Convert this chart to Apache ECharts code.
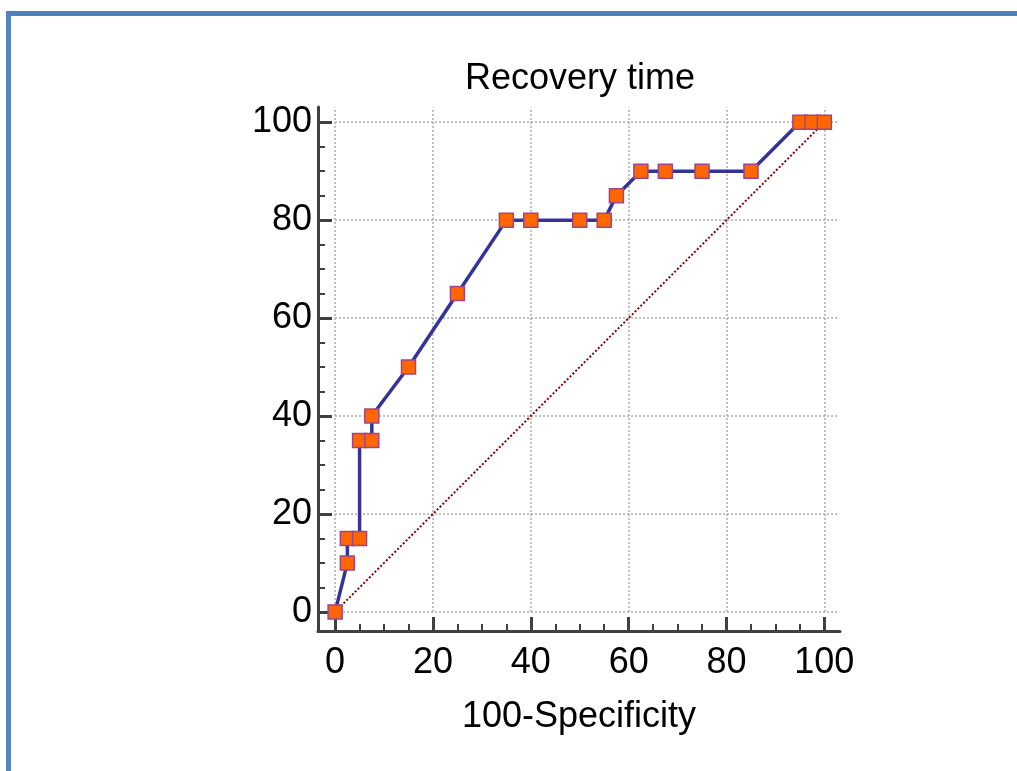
<!DOCTYPE html>
<html>
<head>
<meta charset="utf-8">
<script src="https://cdn.jsdelivr.net/npm/echarts@6/dist/echarts.min.js"></script>
<style>
html,body{margin:0;padding:0;background:#fff;}
#frame{position:absolute;left:6px;top:11px;width:1011px;height:760px;border-top:5px solid #4f81bd;border-left:5px solid #5585c0;box-sizing:border-box;}
#chart{position:absolute;left:0;top:0;width:1017px;height:771px;}
</style>
</head>
<body>
<div id="frame"></div>
<div id="chart"></div>
<script>
// ROC curve points: 100-Specificity (x) and Sensitivity (y)
const specX = [0, 2.5, 2.5, 5, 5, 7.5, 7.5, 15, 25, 35, 40, 50, 55, 57.5, 62.5, 67.5, 75, 85, 95, 97.5, 100];
const sensY = [0, 10, 15, 15, 35, 35, 40, 50, 65, 80, 80, 80, 80, 85, 90, 90, 90, 90, 100, 100, 100];
// reference diagonal
const diagX = [0, 100];
const diagY = [0, 100];
// tick labels
const majorTicks = [0, 20, 40, 60, 80, 100];
const minorTicks = [5, 10, 15, 25, 30, 35, 45, 50, 55, 65, 70, 75, 85, 90, 95];
const gridEnd = 103;
const xRange = [-3.5, 103.2];
const yRange = [-3.9, 103.1];
const title = 'Recovery time';
const xName = '100-Specificity';

const FONT = 'Liberation Sans, Arial, sans-serif';
const FS = 36;

const rocData = specX.map((x, i) => [x, sensY[i]]);
const diagData = diagX.map((x, i) => [x, diagY[i]]);

const gridLines = [];
majorTicks.forEach(v => {
  gridLines.push([{coord: [v, 0]}, {coord: [v, gridEnd]}]);
  gridLines.push([{coord: [0, v]}, {coord: [gridEnd, v]}]);
});

function mkAxis(range, major, isMain, extra) {
  return Object.assign({
    type: 'value',
    min: range[0],
    max: range[1],
    splitLine: {show: false},
    axisLine: {show: isMain, onZero: false, lineStyle: {color: '#404040', width: 3}},
    axisTick: {
      show: true, inside: true,
      customValues: major ? majorTicks : minorTicks,
      length: major ? 14 : 7,
      lineStyle: {color: '#404040', width: major ? 3 : 2}
    },
    axisLabel: {
      show: isMain,
      customValues: majorTicks,
      fontFamily: FONT, fontSize: FS, color: '#000'
    }
  }, extra || {});
}

const chart = echarts.init(document.getElementById('chart'), null, {renderer: 'canvas'});
chart.setOption({
  animation: false,
  backgroundColor: 'transparent',
  title: {
    text: title, left: 460, top: 56,
    textStyle: {fontFamily: FONT, fontSize: FS, fontWeight: 'normal', color: '#000'}
  },
  grid: {left: 318, right: 177, top: 107, bottom: 140, containLabel: false},
  xAxis: [
    mkAxis(xRange, true, true, {
      position: 'bottom',
      name: xName, nameLocation: 'middle', nameGap: 68,
      nameTextStyle: {fontFamily: FONT, fontSize: FS, color: '#000'},
      axisLabel: {show: true, customValues: majorTicks, fontFamily: FONT, fontSize: FS, color: '#000', margin: 14}
    }),
    mkAxis(xRange, false, false, {position: 'bottom'})
  ],
  yAxis: [
    mkAxis(yRange, true, true, {
      position: 'left',
      axisLabel: {show: true, customValues: majorTicks, fontFamily: FONT, fontSize: FS, color: '#000', margin: 6}
    }),
    mkAxis(yRange, false, false, {position: 'left'})
  ],
  series: [
    {
      type: 'line', data: diagData, symbol: 'none', silent: true, z: 2,
      lineStyle: {color: '#8b0000', width: 2, type: [2, 2]},
      markLine: {
        silent: true, symbol: 'none', label: {show: false}, z: 1,
        lineStyle: {color: '#a8a8a8', width: 1.5, type: [2, 2]},
        emphasis: {disabled: true},
        data: gridLines
      }
    },
    {
      type: 'line', data: rocData, z: 3,
      symbol: 'rect', symbolSize: 14, showAllSymbol: true,
      lineStyle: {color: '#333399', width: 3.5},
      itemStyle: {color: '#ff6600', borderColor: '#a0448a', borderWidth: 1.5}
    }
  ]
});
</script>
</body>
</html>
